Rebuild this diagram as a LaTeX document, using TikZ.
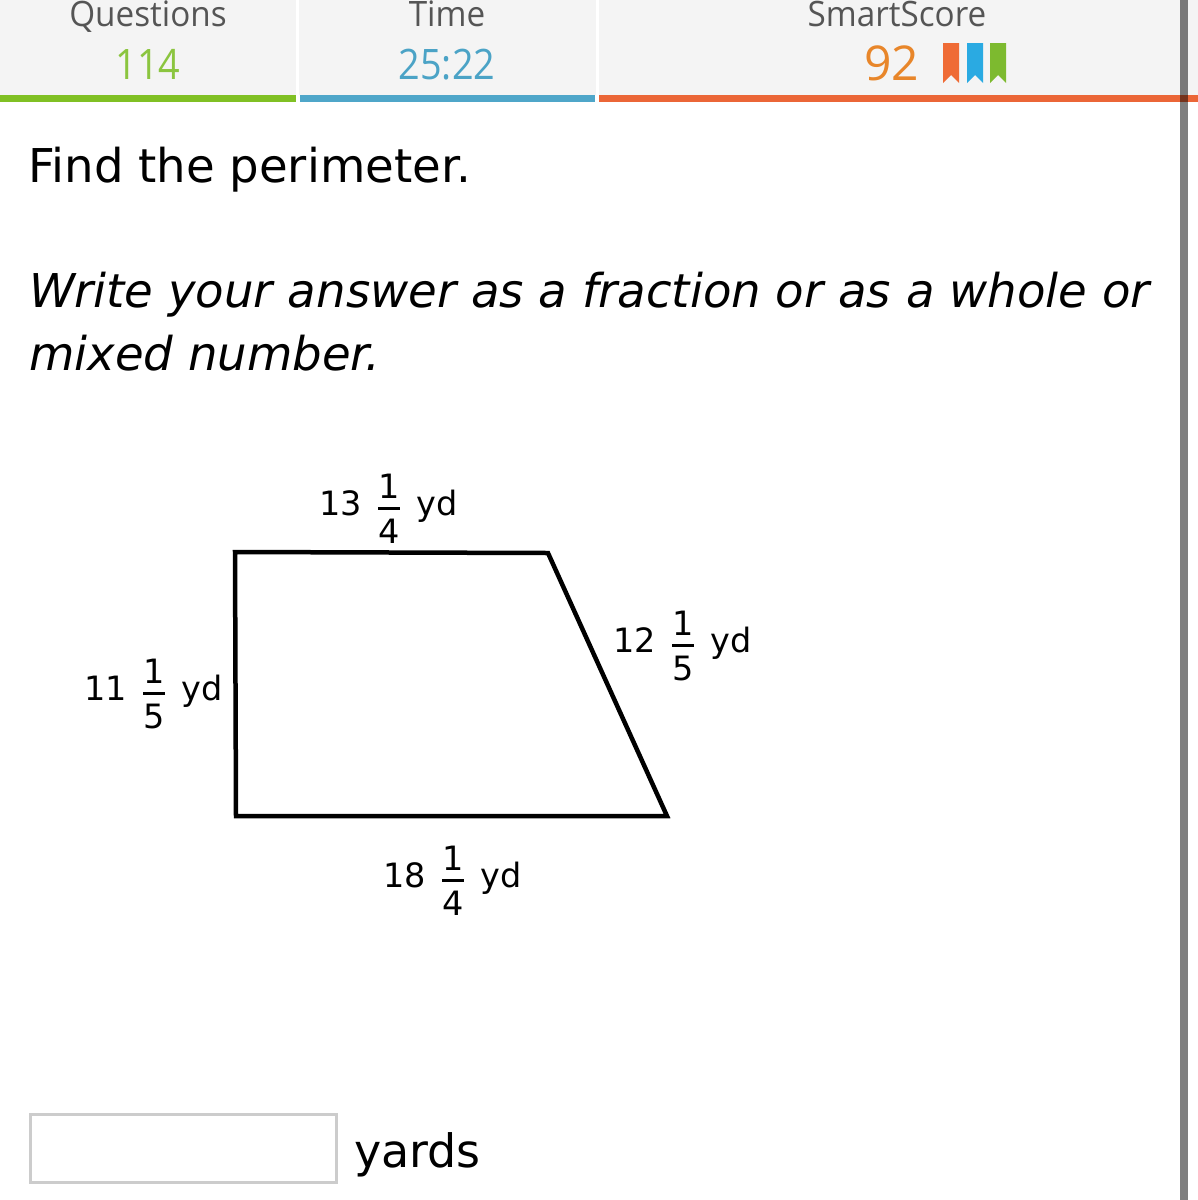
\documentclass[tikz,border=0pt]{standalone}
\usepackage{amsmath}
\usepackage{fontspec}
\setmainfont{DejaVu Sans}
\newfontfamily\hdrfont{Open Sans}
\definecolor{hdrbg}{HTML}{F4F4F4}
\definecolor{hdrtxt}{HTML}{555555}
\definecolor{qgreen}{HTML}{8BC53F}
\definecolor{tblue}{HTML}{4BA3C6}
\definecolor{sorange}{HTML}{E8862A}
\definecolor{bargreen}{HTML}{80C024}
\definecolor{barblue}{HTML}{4FA6C9}
\definecolor{barorange}{HTML}{EB6637}
\definecolor{rorange}{HTML}{EF6B35}
\definecolor{rblue}{HTML}{2AAAE2}
\definecolor{rgreen}{HTML}{7DBA2F}
\definecolor{boxgray}{HTML}{CCCCCC}
\newcommand\mixyd[3]{#1\hspace{0.46em}$\genfrac{}{}{3pt}{0}{\mbox{#2}}{\mbox{#3}}$\hspace{0.46em}yd}
\newcommand\ribbon[2]{\fill[#2] (#1,43) -- ++(16,0) -- ++(0,40) -- ++(-8,-8) -- ++(-8,8) -- cycle;}
\begin{document}
\begin{tikzpicture}[x=1pt,y=-1pt,
  hdrlabel/.style={inner sep=0pt,anchor=base,text=hdrtxt,font=\hdrfont\fontsize{35}{40}\selectfont},
  hdrvalue/.style={inner sep=0pt,anchor=base,font=\hdrfont\fontsize{42}{48}\selectfont},
  bodytext/.style={inner sep=0pt,anchor=base west,font=\fontsize{46.6}{54}\selectfont},
  sidelabel/.style={inner sep=0pt,anchor=base west,font=\fontsize{33.5}{40}\selectfont},
  edge/.style={line width=4.5pt,line join=miter,line cap=rect}]
\useasboundingbox (0,0) rectangle (1198,1200);
\fill[white] (0,0) rectangle (1198,1200);
% header
\fill[hdrbg] (0,0) rectangle (1198,95);
\draw[white,line width=3pt] (297.5,0) -- (297.5,95);
\draw[white,line width=3pt] (597.5,0) -- (597.5,95);
\fill[bargreen] (0,95) rectangle (296,102);
\fill[barblue] (300,95) rectangle (595,102);
\fill[barorange] (599,95) rectangle (1198,102);
\node[hdrlabel] (qlabel) at (148,26) {\scalebox{0.95}[1]{Questions}};
\node[hdrvalue,text=qgreen] (qvalue) at (148,79) {\scalebox{0.9}[1]{114}};
\node[hdrlabel] (tlabel) at (447,26) {\scalebox{0.95}[1]{Time}};
\node[hdrvalue,text=tblue] (tvalue) at (447,79) {\scalebox{0.9}[1]{25:22}};
\node[hdrlabel] (slabel) at (897,26) {\scalebox{0.95}[1]{SmartScore}};
\node[hdrvalue,text=sorange,anchor=base west,font=\hdrfont\fontsize{48}{54}\selectfont] (svalue) at (864,80) {92};
\ribbon{943}{rorange}
\ribbon{967}{rblue}
\ribbon{990}{rgreen}
% question text
\node[bodytext] (q1) at (28,182) {Find the perimeter.};
\node[bodytext,font=\fontsize{46.6}{54}\selectfont\itshape] (q2) at (29,307) {Write your answer as a fraction or as a whole or};
\node[bodytext,font=\fontsize{46.6}{54}\selectfont\itshape] (q3) at (29,370) {mixed number.};
% trapezoid
\coordinate (A) at (235,552);
\coordinate (B) at (548,553);
\coordinate (C) at (667,816);
\coordinate (D) at (236,816);
\draw[edge] (A) -- (B) -- (C) -- (D) -- cycle;
\node[sidelabel] (top) at (319,515) {\mixyd{13}{1}{4}};
\node[sidelabel] (left) at (84,700) {\mixyd{11}{1}{5}};
\node[sidelabel] (right) at (613,652) {\mixyd{12}{1}{5}};
\node[sidelabel] (bottom) at (383,887) {\mixyd{18}{1}{4}};
% answer
\node[draw=boxgray,line width=3pt,fill=white,inner sep=0pt,minimum width=306pt,minimum height=68pt] (answerbox) at (183.5,1148.5) {};
\node[inner sep=0pt,anchor=base west,font=\fontsize{46}{54}\selectfont] (yards) at (354,1167) {yards};
% right scrollbar
\fill[black,opacity=0.5] (1180,0) rectangle (1188,1200);
\end{tikzpicture}
\end{document}
